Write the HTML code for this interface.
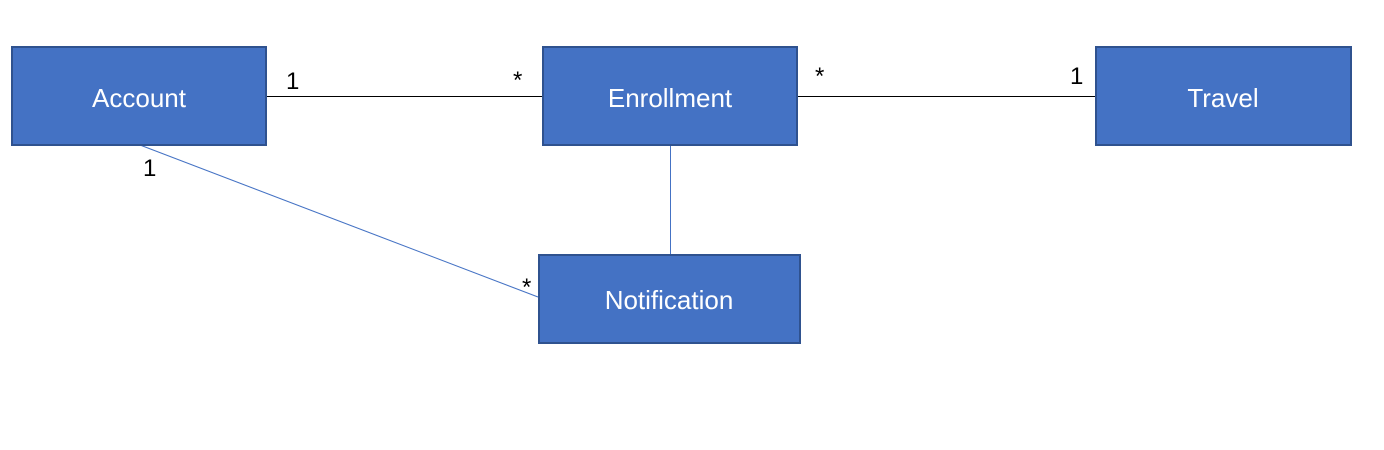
<!DOCTYPE html>
<html><head><meta charset="utf-8"><style>
body{margin:0;width:1384px;height:445px;background:#fff;overflow:hidden}
</style></head><body>
<svg width="1384" height="445" xmlns="http://www.w3.org/2000/svg" font-family="Liberation Sans, DejaVu Sans, sans-serif">
<line x1="266" y1="96.5" x2="542" y2="96.5" stroke="#000" stroke-width="1"/>
<line x1="797" y1="96.5" x2="1095" y2="96.5" stroke="#000" stroke-width="1"/>
<line x1="670.5" y1="145" x2="670.5" y2="254" stroke="#4472C4" stroke-width="1"/>
<line x1="140" y1="145" x2="538" y2="297" stroke="#4472C4" stroke-width="1"/>
<g fill="#4472C4" stroke="#2F528F" stroke-width="2">
<rect x="12" y="47" width="254" height="98"/>
<rect x="543" y="47" width="254" height="98"/>
<rect x="1096" y="47" width="255" height="98"/>
<rect x="539" y="255" width="261" height="88"/>
</g>
<g fill="#fff" font-size="26" text-anchor="middle">
<text x="139" y="107">Account</text>
<text x="670" y="107">Enrollment</text>
<text x="1223" y="107">Travel</text>
<text x="669" y="309">Notification</text>
</g>
<g fill="#000" font-size="24">
<text x="286" y="89">1</text>
<text x="513" y="88">*</text>
<text x="815" y="84">*</text>
<text x="1070" y="84">1</text>
<text x="143" y="176">1</text>
<text x="522" y="295">*</text>
</g>
</svg>
</body></html>
